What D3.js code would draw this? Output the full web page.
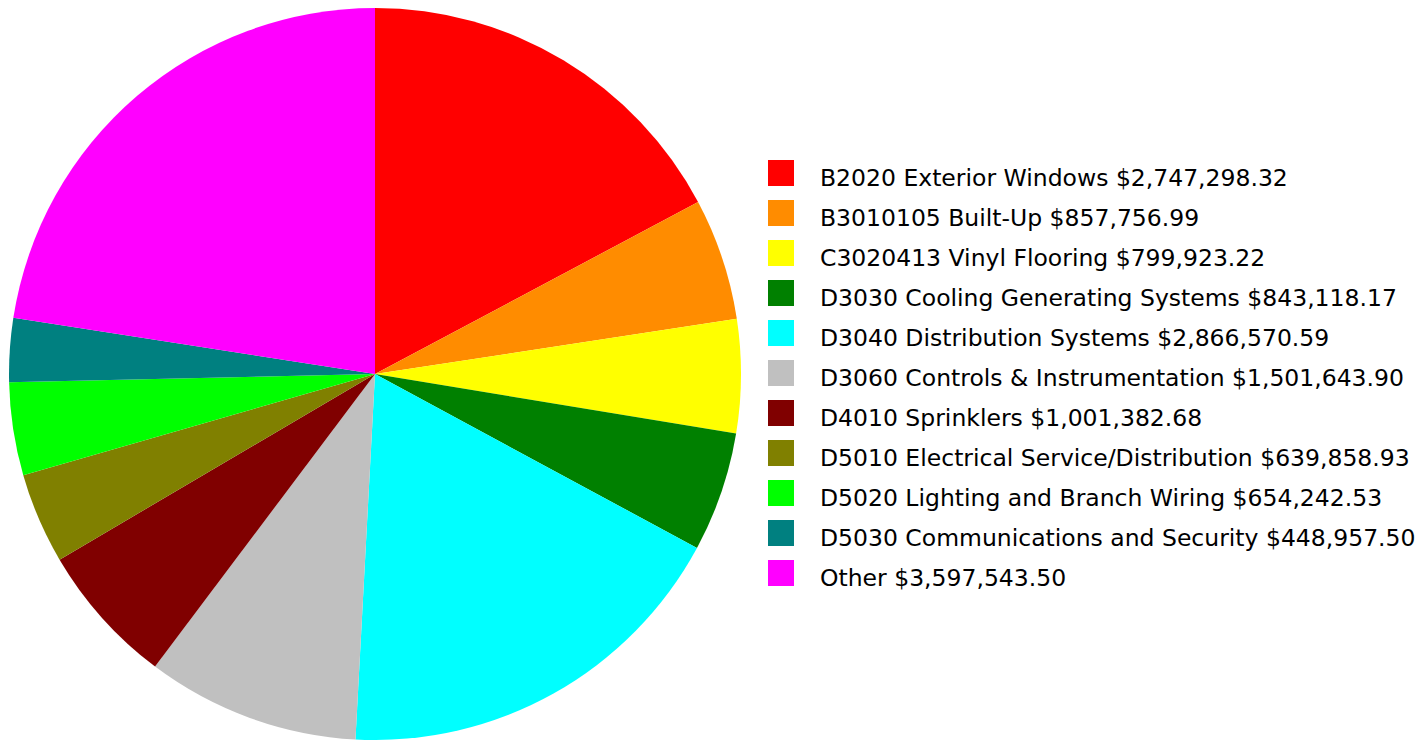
<!DOCTYPE html>
<html>
<head>
<meta charset="utf-8">
<script src="https://cdn.jsdelivr.net/npm/d3@7"></script>
<style>
  html, body { margin: 0; padding: 0; background: #fff; }
  svg { display: block; }
  .legend text { font-family: "DejaVu Sans", Verdana, sans-serif; font-size: 23.5px; fill: #000; }
</style>
</head>
<body>
<svg id="chart" width="1424" height="740"></svg>
<script>
// Cost categories, in drawing order (clockwise from 12 o'clock)
const categories = [
  "B2020 Exterior Windows",
  "B3010105 Built-Up",
  "C3020413 Vinyl Flooring",
  "D3030 Cooling Generating Systems",
  "D3040 Distribution Systems",
  "D3060 Controls & Instrumentation",
  "D4010 Sprinklers",
  "D5010 Electrical Service/Distribution",
  "D5020 Lighting and Branch Wiring",
  "D5030 Communications and Security",
  "Other"
];
const costs = [
  2747298.32, 857756.99, 799923.22, 843118.17, 2866570.59,
  1501643.90, 1001382.68, 639858.93, 654242.53, 448957.50, 3597543.50
];
const colors = [
  "#FF0000", "#FF8C00", "#FFFF00", "#008000", "#00FFFF",
  "#C0C0C0", "#800000", "#808000", "#00FF00", "#008080", "#FF00FF"
];

const data = categories.map((c, i) => ({ name: c, value: costs[i], color: colors[i] }));
const money = d3.format("$,.2f");

const svg = d3.select("#chart");
const cx = 375, cy = 374, radius = 366;

const pie = d3.pie().sort(null).value(d => d.value);
const arc = d3.arc().innerRadius(0).outerRadius(radius);

svg.append("g")
  .attr("transform", `translate(${cx},${cy})`)
  .selectAll("path")
  .data(pie(data))
  .join("path")
  .attr("d", arc)
  .attr("fill", d => d.data.color);

// Legend
const rowY = d3.scaleBand().domain(d3.range(data.length)).range([153, 153 + 40 * data.length]);
const legend = svg.append("g").attr("class", "legend");
const rows = legend.selectAll("g")
  .data(data)
  .join("g")
  .attr("transform", (d, i) => `translate(768,${rowY(i)})`);
rows.append("rect")
  .attr("x", 0).attr("y", 7)
  .attr("width", 26).attr("height", 26)
  .attr("fill", d => d.color);
rows.append("text")
  .attr("x", 52).attr("y", 33)
  .text(d => `${d.name} ${money(d.value)}`);
</script>
</body>
</html>
